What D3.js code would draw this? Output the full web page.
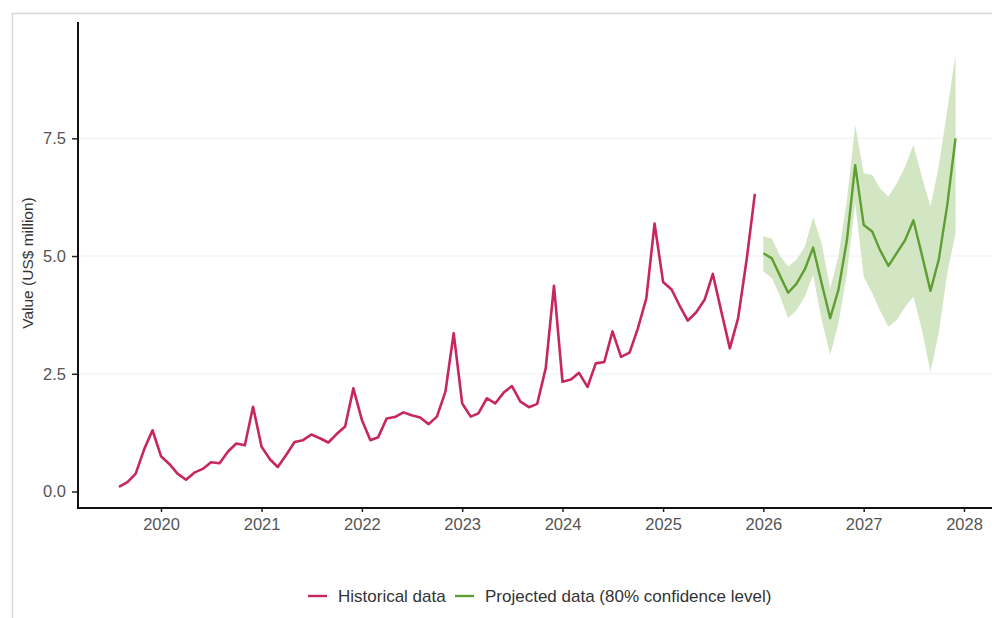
<!DOCTYPE html>
<html>
<head>
<meta charset="utf-8">
<script src="https://cdn.jsdelivr.net/npm/d3@7"></script>
<style>
  html, body { margin: 0; padding: 0; background: #fff; }
  svg { display: block; font-family: "Liberation Sans", Arial, sans-serif; }
</style>
</head>
<body>
<svg id="chart" width="992" height="618"></svg>
<script>
// ---- data ----
const historicalStart = "2019-08-01";
const historicalValues = [
  0.10, 0.20, 0.38, 0.90, 1.30,                                        // 2019 Aug-Dec
  0.75, 0.58, 0.38, 0.25, 0.40, 0.48, 0.62, 0.60, 0.85, 1.02, 0.98, 1.80, // 2020
  0.95, 0.68, 0.52, 0.78, 1.05, 1.09, 1.21, 1.13, 1.04, 1.22, 1.38, 2.19, // 2021
  1.52, 1.09, 1.15, 1.55, 1.58, 1.68, 1.62, 1.57, 1.43, 1.59, 2.12, 3.36, // 2022
  1.87, 1.59, 1.66, 1.98, 1.87, 2.10, 2.24, 1.91, 1.79, 1.86, 2.62, 4.37, // 2023
  2.33, 2.38, 2.52, 2.22, 2.72, 2.75, 3.40, 2.86, 2.95, 3.46, 4.10, 5.69, // 2024
  4.45, 4.29, 3.96, 3.63, 3.80, 4.07, 4.62, 3.82, 3.04, 3.68, 4.92, 6.32  // 2025
];
const projectedStart = "2026-01-01";
const projectedValues = [
  5.06, 4.95, 4.60, 4.22, 4.41, 4.72, 5.18, 4.42, 3.68, 4.28, 5.34, 6.93, // 2026
  5.66, 5.52, 5.13, 4.79, 5.06, 5.34, 5.76, 5.02, 4.26, 4.92, 6.08, 7.50  // 2027
];
const projectedLower = [
  4.67, 4.53, 4.17, 3.68, 3.85, 4.14, 4.60, 3.64, 2.90, 3.57, 4.63, 6.12,
  4.56, 4.21, 3.85, 3.50, 3.64, 3.92, 4.14, 3.43, 2.54, 3.36, 4.63, 5.48
];
const projectedUpper = [
  5.42, 5.37, 5.02, 4.77, 4.92, 5.20, 5.83, 5.27, 4.31, 4.99, 6.19, 7.78,
  6.76, 6.72, 6.44, 6.26, 6.54, 6.90, 7.36, 6.68, 6.05, 6.90, 8.10, 9.27
];
const yTicks = [0, 2.5, 5, 7.5];
const xTickYears = [2020, 2021, 2022, 2023, 2024, 2025, 2026, 2027, 2028];
const yTitle = "Value (US$ million)";
const legendLabels = ["Historical data", "Projected data (80% confidence level)"];

// ---- build records ----
const parse = d3.utcParse("%Y-%m-%d");
function monthsFrom(start, n) {
  const s = parse(start);
  return d3.range(n).map(i => d3.utcMonth.offset(s, i));
}
const histDates = monthsFrom(historicalStart, historicalValues.length);
const projDates = monthsFrom(projectedStart, projectedValues.length);
const hist = histDates.map((d, i) => ({ date: d, value: historicalValues[i] }));
const proj = projDates.map((d, i) => ({
  date: d, value: projectedValues[i], lo: projectedLower[i], hi: projectedUpper[i]
}));

// ---- layout ----
const svg = d3.select("#chart");
const colHist = "#c7285c";
const colProj = "#5f9e32";
const colBand = "#d3e6c3";

const axisLeftX = 78, axisBottomY = 508, axisTopY = 22;

const x = d3.scaleUtc()
  .domain([Date.UTC(2020, 0, 1), Date.UTC(2028, 0, 1)])
  .range([161, 964]);
const y = d3.scaleLinear()
  .domain([0, 7.5])
  .range([491.5, 138.3]);

// frame
svg.append("path")
  .attr("d", "M12.5,618 V13.5 H992")
  .attr("fill", "none")
  .attr("stroke", "#d6d6d6")
  .attr("stroke-width", 1.5);

// gridlines
svg.append("g").selectAll("line")
  .data(yTicks.filter(t => t > 0))
  .join("line")
  .attr("x1", axisLeftX).attr("x2", 992)
  .attr("y1", d => y(d)).attr("y2", d => y(d))
  .attr("stroke", "#efefef").attr("stroke-width", 1);

// band
svg.append("path")
  .datum(proj)
  .attr("fill", colBand)
  .attr("d", d3.area()
    .x(d => x(d.date))
    .y0(d => y(d.lo))
    .y1(d => y(d.hi)));

// lines
svg.append("path")
  .datum(hist)
  .attr("fill", "none")
  .attr("stroke", colHist)
  .attr("stroke-width", 2.6)
  .attr("stroke-linejoin", "round")
  .attr("d", d3.line().x(d => x(d.date)).y(d => y(d.value)));

svg.append("path")
  .datum(proj)
  .attr("fill", "none")
  .attr("stroke", colProj)
  .attr("stroke-width", 2.4)
  .attr("stroke-linejoin", "round")
  .attr("d", d3.line().x(d => x(d.date)).y(d => y(d.value)));

// y axis
const yAxis = svg.append("g")
  .attr("transform", `translate(${axisLeftX},0)`)
  .call(d3.axisLeft(y).tickValues(yTicks).tickFormat(d3.format(".1f")).tickSize(6).tickPadding(6));
yAxis.select(".domain").remove();
yAxis.selectAll(".tick line").attr("stroke", "#222").attr("stroke-width", 1.5);
yAxis.selectAll(".tick text").attr("fill", "#555").attr("font-size", "16.5px")
  .attr("font-family", "Liberation Sans, Arial, sans-serif");
svg.append("line")
  .attr("x1", axisLeftX).attr("x2", axisLeftX)
  .attr("y1", axisTopY).attr("y2", axisBottomY + 1)
  .attr("stroke", "#111").attr("stroke-width", 2);

// x axis
const xAxis = svg.append("g")
  .attr("transform", `translate(0,${axisBottomY})`)
  .call(d3.axisBottom(x)
    .tickValues(xTickYears.map(yr => new Date(Date.UTC(yr, 0, 1))))
    .tickFormat(d3.utcFormat("%Y")).tickSize(4).tickPadding(6));
xAxis.select(".domain").remove();
xAxis.selectAll(".tick line").attr("stroke", "#222").attr("stroke-width", 1.5);
xAxis.selectAll(".tick text").attr("fill", "#555").attr("font-size", "16.5px")
  .attr("font-family", "Liberation Sans, Arial, sans-serif");
svg.append("line")
  .attr("x1", axisLeftX - 1).attr("x2", 992)
  .attr("y1", axisBottomY).attr("y2", axisBottomY)
  .attr("stroke", "#111").attr("stroke-width", 2);

// y title
svg.append("text")
  .attr("transform", `translate(33,263) rotate(-90)`)
  .attr("text-anchor", "middle")
  .attr("font-size", "15.5px")
  .attr("fill", "#333")
  .text(yTitle);

// legend
const legend = svg.append("g").attr("transform", "translate(0,596)");
const legendItems = [
  { label: legendLabels[0], color: colHist, x0: 308 },
  { label: legendLabels[1], color: colProj, x0: 455 }
];
legendItems.forEach(it => {
  legend.append("line")
    .attr("x1", it.x0).attr("x2", it.x0 + 19)
    .attr("y1", 0).attr("y2", 0)
    .attr("stroke", it.color).attr("stroke-width", 2.4);
  legend.append("text")
    .attr("x", it.x0 + 30).attr("y", 0)
    .attr("dy", "0.35em")
    .attr("font-size", "17px")
    .attr("fill", "#333")
    .text(it.label);
});
</script>
</body>
</html>
